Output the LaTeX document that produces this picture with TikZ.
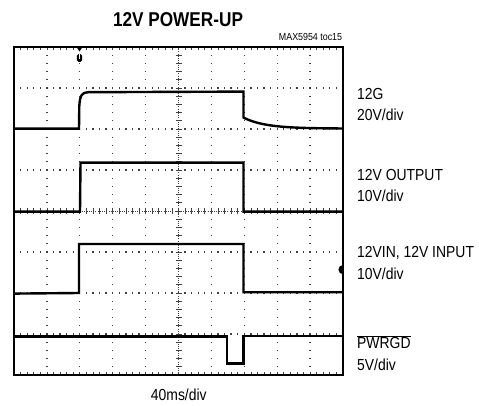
\documentclass[tikz,border=0pt]{standalone}
\usepackage{fontspec}
\setmainfont{Liberation Sans}
\newfontfamily\titleFont[FakeStretch=0.86]{Liberation Sans}
\newfontfamily\labelFont[FakeStretch=0.87]{Liberation Sans}
\usetikzlibrary{positioning}
\tikzset{
  scopeFrame/.style={draw,line width=2.3pt},
  gridDot/.style={fill=gridGrey},
  axisTick/.style={draw=gridGrey,line width=0.7pt},
  axisLine/.style={draw=gridGrey,line width=0.5pt,dash pattern=on 0.8pt off 1.4pt},
  traceLine/.style={draw=traceBlack,line width=2.4pt,line join=miter},
  marker/.style={fill=traceBlack},
  plotTitle/.style={anchor=base,inner sep=0pt,font=\titleFont\bfseries\fontsize{20}{22}\selectfont},
  figId/.style={anchor=base east,inner sep=0pt,font=\labelFont\fontsize{10.2}{11}\selectfont},
  sideLabel/.style={anchor=base west,inner sep=0pt,font=\labelFont\fontsize{16}{18}\selectfont},
  timeLabel/.style={sideLabel,anchor=base},
}
\colorlet{gridGrey}{black!75}
\colorlet{traceBlack}{black}
\newcommand{\ScopeLeft}{14}
\newcommand{\ScopeTop}{47}
\newcommand{\ScopeRight}{343}
\newcommand{\ScopeBottom}{375}
\newcommand{\DivW}{32.9}
\newcommand{\DivH}{41}
\newcommand{\MidX}{178.5}
\newcommand{\MidY}{211}

\begin{document}
\begin{tikzpicture}[x=1pt,y=-1pt]
  \useasboundingbox (0,0) rectangle (479,406);

  % graticule
  \foreach \i in {1,...,9}{
    \ifnum\i=5\else
      \foreach \j in {1,...,39}
        \fill[gridDot] ({\ScopeLeft+\i*\DivW-0.65},{\ScopeTop+\j*\DivH/5-0.65}) rectangle +(1.3,1.3);
    \fi
  }
  \foreach \k in {1,2,3,5,6,7}{
    \foreach \j in {1,...,49}
      \fill[gridDot] ({\ScopeLeft+\j*\DivW/5-0.65},{\ScopeTop+\k*\DivH-0.65}) rectangle +(1.3,1.3);
  }
  \draw[axisLine] (\MidX,\ScopeTop) -- (\MidX,\ScopeBottom);
  \draw[axisLine] (\ScopeLeft,\MidY) -- (\ScopeRight,\MidY);
  \foreach \j in {1,...,39}
    \draw[axisTick] ({\MidX-3},{\ScopeTop+\j*\DivH/5}) -- +(6,0);
  \foreach \j in {1,...,49}{
    \draw[axisTick] ({\ScopeLeft+\j*\DivW/5},{\MidY-3}) -- +(0,6);
    \draw[axisTick] ({\ScopeLeft+\j*\DivW/5},\ScopeTop) -- +(0,3);
    \draw[axisTick] ({\ScopeLeft+\j*\DivW/5},\ScopeBottom) -- +(0,-3);
  }

  % traces
  \draw[traceLine] (\ScopeLeft,128.6) -- (79,128.6) -- (79.3,106)
    .. controls (80,95) and (82,92.6) .. (88,92.2) -- (243.5,91.6) -- (243.5,117.5)
    -- plot[domain=243.5:\ScopeRight,samples=40,smooth] (\x,{128.6-11*exp(-(\x-243.5)/22)});
  \draw[traceLine] (\ScopeLeft,211.6) -- (80,211.6) -- (80.5,162.6) -- (243.5,162.6)
    -- (243.5,211.6) -- (\ScopeRight,211.6);
  \draw[traceLine] (\ScopeLeft,293.6) -- (79,293) -- (79,244) -- (243.5,244)
    -- (243.5,292.2) -- (\ScopeRight,292.2);
  \draw[traceLine] (\ScopeLeft,336.4) -- (227,336.4) -- (227,363.3) -- (243.5,363.3)
    -- (243.5,335.9) -- (\ScopeRight,335.9);

  \draw[scopeFrame] (\ScopeLeft,\ScopeTop) rectangle (\ScopeRight,\ScopeBottom);

  % trigger and ground markers
  \fill[marker] (76.5,47) -- (82.5,47) -- (79.5,51.5) -- cycle;
  \fill[marker,rounded corners=1.8pt] (76.8,54) rectangle (82.2,62);
  \draw[white,line width=0.9pt] (79.5,54.3) -- (79.5,59.2);
  \fill[marker] (\ScopeRight,265) arc[start angle=90,end angle=270,radius=4.6pt] -- cycle;

  % texts
  \node[plotTitle] (title) at (178,26.7) {12V POWER-UP};
  \node[figId] (tocId) at (342.3,41) {MAX5954 toc15};
  \node[sideLabel] (lblG) at (357,99.8) {12G};
  \node[sideLabel] (lblGScale) at (357,120.3) {20V/div};
  \node[sideLabel] (lblOut) at (357,180.3) {12V OUTPUT};
  \node[sideLabel] (lblOutScale) at (357,201.3) {10V/div};
  \node[sideLabel] (lblIn) at (357,257.5) {12VIN, 12V INPUT};
  \node[sideLabel] (lblInScale) at (357,279.2) {10V/div};
  \node[sideLabel] (lblPwr) at (357,348.5) {$\overline{\hbox{PWRGD}}$};
  \node[sideLabel] (lblPwrScale) at (357,370.2) {5V/div};
  \node[timeLabel] (lblTime) at (178.8,400.9) {40ms/div};
\end{tikzpicture}
\end{document}
